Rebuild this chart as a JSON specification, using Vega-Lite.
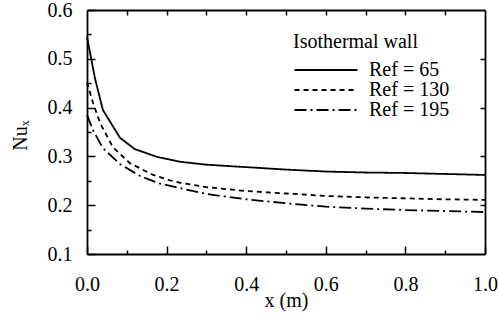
{
  "$schema": "https://vega.github.io/schema/vega-lite/v6.json",
  "autosize": {"type": "none"},
  "padding": {"left": 87, "top": 10, "right": 14, "bottom": 68},
  "width": 398,
  "height": 244,
  "background": "white",
  "config": {
    "view": {"stroke": null},
    "axis": {
      "labelFontSize": 20, "labelColor": "#000",
      "titleFontSize": 20, "titleColor": "#000", "titleFontWeight": "normal",
      "domainColor": "#000", "domainWidth": 1.8, "tickColor": "#000", "tickWidth": 1.5, "grid": false, "labelFlush": false
    },
    "legend": {
      "labelFontSize": 20, "labelColor": "#000",
      "titleFontSize": 20, "titleColor": "#000", "titleFontWeight": "normal"
    }
  },
  "data": {"values": [
    {"x": 0.0, "Nu": 0.545, "Re": "65"},
    {"x": 0.02, "Nu": 0.46, "Re": "65"},
    {"x": 0.04, "Nu": 0.395, "Re": "65"},
    {"x": 0.083, "Nu": 0.338, "Re": "65"},
    {"x": 0.12, "Nu": 0.315, "Re": "65"},
    {"x": 0.176, "Nu": 0.299, "Re": "65"},
    {"x": 0.234, "Nu": 0.289, "Re": "65"},
    {"x": 0.3, "Nu": 0.283, "Re": "65"},
    {"x": 0.4, "Nu": 0.278, "Re": "65"},
    {"x": 0.5, "Nu": 0.273, "Re": "65"},
    {"x": 0.6, "Nu": 0.269, "Re": "65"},
    {"x": 0.7, "Nu": 0.267, "Re": "65"},
    {"x": 0.8, "Nu": 0.266, "Re": "65"},
    {"x": 0.9, "Nu": 0.264, "Re": "65"},
    {"x": 1.0, "Nu": 0.262, "Re": "65"},
    {"x": 0.0, "Nu": 0.452, "Re": "130"},
    {"x": 0.015, "Nu": 0.41, "Re": "130"},
    {"x": 0.033, "Nu": 0.368, "Re": "130"},
    {"x": 0.065, "Nu": 0.319, "Re": "130"},
    {"x": 0.108, "Nu": 0.286, "Re": "130"},
    {"x": 0.166, "Nu": 0.262, "Re": "130"},
    {"x": 0.209, "Nu": 0.251, "Re": "130"},
    {"x": 0.234, "Nu": 0.246, "Re": "130"},
    {"x": 0.3, "Nu": 0.237, "Re": "130"},
    {"x": 0.4, "Nu": 0.229, "Re": "130"},
    {"x": 0.5, "Nu": 0.224, "Re": "130"},
    {"x": 0.6, "Nu": 0.219, "Re": "130"},
    {"x": 0.7, "Nu": 0.216, "Re": "130"},
    {"x": 0.8, "Nu": 0.214, "Re": "130"},
    {"x": 0.9, "Nu": 0.212, "Re": "130"},
    {"x": 1.0, "Nu": 0.211, "Re": "130"},
    {"x": 0.0, "Nu": 0.385, "Re": "195"},
    {"x": 0.015, "Nu": 0.354, "Re": "195"},
    {"x": 0.04, "Nu": 0.317, "Re": "195"},
    {"x": 0.083, "Nu": 0.284, "Re": "195"},
    {"x": 0.133, "Nu": 0.26, "Re": "195"},
    {"x": 0.18, "Nu": 0.245, "Re": "195"},
    {"x": 0.234, "Nu": 0.235, "Re": "195"},
    {"x": 0.3, "Nu": 0.223, "Re": "195"},
    {"x": 0.4, "Nu": 0.212, "Re": "195"},
    {"x": 0.5, "Nu": 0.204, "Re": "195"},
    {"x": 0.6, "Nu": 0.197, "Re": "195"},
    {"x": 0.7, "Nu": 0.193, "Re": "195"},
    {"x": 0.8, "Nu": 0.19, "Re": "195"},
    {"x": 0.9, "Nu": 0.188, "Re": "195"},
    {"x": 1.0, "Nu": 0.186, "Re": "195"}
  ]},
  "resolve": {"axis": {"x": "independent", "y": "independent"}},
  "layer": [
    {
      "mark": {"type": "line", "color": "#000", "strokeWidth": 1.8},
      "encoding": {
        "x": {"field": "x", "type": "quantitative",
          "scale": {"domain": [0, 1], "nice": false},
          "axis": {"orient": "bottom", "values": [0, 0.2, 0.4, 0.6, 0.8, 1.0], "format": ".1f",
            "labelFont": "Liberation Serif", "titleFont": "Liberation Serif",
            "tickSize": -8, "labelPadding": 28, "title": "x (m)", "titleY": 46, "titleBaseline": "middle"}},
        "y": {"field": "Nu", "type": "quantitative",
          "scale": {"domain": [0.1, 0.6], "nice": false},
          "axis": {"orient": "left", "values": [0.1, 0.2, 0.3, 0.4, 0.5, 0.6], "format": ".1f",
            "labelFont": "Liberation Serif", "titleFont": "Liberation Serif",
            "tickSize": -8, "labelPadding": 23, "title": "Nuₓ", "titleX": -67, "titleY": 125,
            "titleAngle": -90, "titleAlign": "center", "titleBaseline": "middle"}},
        "strokeDash": {"field": "Re", "type": "nominal",
          "scale": {"domain": ["65", "130", "195"], "range": [[1, 0], [5, 4], [12, 4, 2, 4]]},
          "legend": {"title": "Isothermal wall", "orient": "none", "legendX": 206, "legendY": 22,
            "titleFont": "Liberation Serif", "labelFont": "Liberation Serif",
            "symbolType": "M-6,0H6", "symbolSize": 110, "symbolStrokeWidth": 1.8, "symbolStrokeColor": "#000",
            "symbolOffset": 23,
            "labelExpr": "'Ref = ' + datum.label", "padding": 0, "titlePadding": 8, "rowPadding": -2, "labelOffset": 33}}
      }
    },
    {
      "mark": {"type": "point", "opacity": 0},
      "encoding": {
        "x": {"field": "x", "type": "quantitative",
          "axis": {"orient": "bottom", "values": [0.1, 0.3, 0.5, 0.7, 0.9], "labels": false, "domain": false,
            "tickSize": -4, "title": null}},
        "y": {"field": "Nu", "type": "quantitative",
          "axis": {"orient": "left", "values": [0.15, 0.25, 0.35, 0.45, 0.55], "labels": false, "domain": false,
            "tickSize": -4, "title": null}}
      }
    },
    {
      "mark": {"type": "point", "opacity": 0},
      "encoding": {
        "x": {"field": "x", "type": "quantitative",
          "axis": {"orient": "top", "values": [0.1, 0.2, 0.3, 0.4, 0.5, 0.6, 0.7, 0.8, 0.9], "labels": false,
            "tickSize": -5, "title": null}},
        "y": {"field": "Nu", "type": "quantitative",
          "axis": {"orient": "right", "values": [0.2, 0.3, 0.4, 0.5], "labels": false,
            "tickSize": -5, "title": null}}
      }
    }
  ]
}
